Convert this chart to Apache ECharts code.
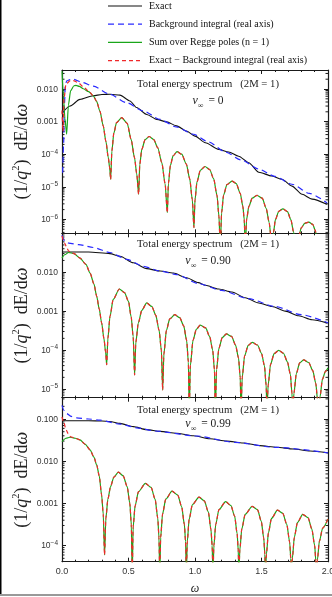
<!DOCTYPE html>
<html><head><meta charset="utf-8">
<script src="https://cdn.jsdelivr.net/npm/echarts@6/dist/echarts.min.js"></script>
<style>html,body{margin:0;padding:0;background:#fff}#c{width:332px;height:597px}</style>
</head><body><div id="c"></div>
<script>
// ---------- names / labels ----------
const seriesNames = ['Exact', 'Background integral (real axis)', 'Sum over Regge poles (n = 1)', 'Exact \u2212 Background integral (real axis)'];
const velocityLabels = ['0', '0.90', '0.99'];
const panelTitle = 'Total energy spectrum   (2M = 1)';
const xTickValues = [0, 0.5, 1.0, 1.5, 2.0];

// ---------- panel 1 (v = 0) ----------
const exact1 = [[0,1.78e-3],[0.06,3.0e-3],[0.135,4.8e-3],[0.235,6.2e-3],[0.3,6.8e-3],[0.361,6.9e-3],[0.436,6.5e-3],[0.511,4.3e-3],[0.561,2.7e-3],[0.637,1.66e-3],[0.712,1.17e-3],[0.787,9.8e-4],[0.862,7.4e-4],[0.937,5.1e-4],[1.0,3.6e-4],[1.078,2.24e-4],[1.178,1.41e-4],[1.253,1.17e-4],[1.328,8.7e-5],[1.404,5.5e-5],[1.479,2.8e-5],[1.579,2.14e-5],[1.654,1.7e-5],[1.729,1.05e-5],[1.805,5.9e-6],[1.88,4.2e-6],[1.992,2.9e-6]];
const background1 = [[0.005,2.7e-5],[0.012,2.0e-4],[0.018,3.0e-3],[0.025,1.3e-2],[0.035,1.78e-2],[0.06,1.95e-2],[0.085,2.0e-2],[0.15,1.6e-2],[0.235,1.23e-2],[0.36,6.9e-3],[0.486,3.8e-3],[0.61,2.14e-3],[0.737,1.17e-3],[0.86,6.9e-4],[0.987,4.1e-4],[1.1,2.4e-4],[1.228,1.17e-4],[1.35,6.6e-5],[1.479,3.5e-5],[1.6,2.1e-5],[1.729,1.2e-5],[1.86,6.3e-6],[1.992,3.2e-6]];
const reggeStart1 = [[0,3.5e-2],[0.01,6.3e-3],[0.022,1.26e-3],[0.035,4.1e-4],[0.048,3.2e-3],[0.065,8.9e-3],[0.09,1.26e-2],[0.105,1.29e-2],[0.13,1.2e-2],[0.16,1.02e-2],[0.2,8.3e-3]];
const diffStart1 = [[0,2.2e-3],[0.008,5.0e-4],[0.015,5.0e-3],[0.03,1.41e-2],[0.06,1.78e-2],[0.085,1.82e-2],[0.12,1.58e-2],[0.16,1.17e-2],[0.2,8.7e-3]];
const lobes1 = [[0.235,6.2e-3],[0.26,4.2e-3],[0.285,2.1e-3],[0.31,7.4e-4],[0.33,2.5e-4],[0.348,7.9e-5],[0.358,4.0e-5],[0.366,1.7e-5],
  [0.375,1.26e-4],[0.39,4.5e-4],[0.41,9.3e-4],[0.449,1.32e-3],[0.49,8.9e-4],[0.52,2.8e-4],[0.545,7.9e-5],[0.562,2.5e-5],[0.576,5.9e-6],
  [0.585,5.0e-5],[0.6,1.41e-4],[0.625,2.8e-4],[0.655,3.5e-4],[0.69,2.8e-4],[0.72,1.58e-4],[0.75,5.6e-5],[0.775,1.26e-5],[0.792,1.6e-6],
  [0.8,1.26e-5],[0.815,4.5e-5],[0.835,8.9e-5],[0.865,1.2e-4],[0.9,1.0e-4],[0.935,5.0e-5],[0.96,1.78e-5],[0.98,4.0e-6],[0.992,5.6e-7],
  [1.0,4.0e-6],[1.015,1.41e-5],[1.04,3.2e-5],[1.075,4.2e-5],[1.11,3.4e-5],[1.14,1.78e-5],[1.165,5.6e-6],[1.18,1.26e-6],[1.19,1.26e-7],
  [1.2,1.6e-6],[1.215,5.6e-6],[1.24,1.17e-5],[1.278,1.5e-5],[1.31,1.26e-5],[1.34,6.3e-6],[1.36,2.5e-6],[1.37,1.0e-6],[1.378,1.26e-7],
  [1.388,1.0e-6],[1.405,2.5e-6],[1.43,4.5e-6],[1.466,5.5e-6],[1.505,4.5e-6],[1.535,2.2e-6],[1.558,7.9e-7],[1.57,3.2e-7],[1.579,1.26e-7],
  [1.59,4.0e-7],[1.605,1.0e-6],[1.63,1.78e-6],[1.661,2.1e-6],[1.695,1.74e-6],[1.72,1.0e-6],[1.742,4.0e-7],[1.76,1.26e-7],
  [1.775,2.5e-7],[1.8,5.6e-7],[1.825,7.6e-7],[1.856,8.3e-7],[1.885,7.1e-7],[1.905,4.5e-7],[1.925,1.26e-7],[1.95,2.0e-7],[2.0,3.2e-7]];

// ---------- panel 2 (v = 0.90) ----------
const exact2 = [[0,3.3e-2],[0.2,3.3e-2],[0.36,3.0e-2],[0.436,2.57e-2],[0.536,1.74e-2],[0.637,1.23e-2],[0.737,1.07e-2],[0.837,9.5e-3],[0.937,7.2e-3],[1.025,5.4e-3],[1.078,4.6e-3],[1.178,3.7e-3],[1.278,3.1e-3],[1.378,2.2e-3],[1.479,1.62e-3],[1.579,1.32e-3],[1.679,1.0e-3],[1.779,7.6e-4],[1.88,6.0e-4],[1.992,5.0e-4]];
const background2 = [[0,8.9e-2],[0.02,6.3e-2],[0.05,5.6e-2],[0.125,5.1e-2],[0.235,4.3e-2],[0.361,3.2e-2],[0.486,2.14e-2],[0.612,1.41e-2],[0.737,1.07e-2],[0.862,8.7e-3],[1.025,5.1e-3],[1.2,3.4e-3],[1.4,2.1e-3],[1.6,1.32e-3],[1.8,8.1e-4],[2.0,5.0e-4]];
const reggeStart2 = [[0,2.3e-2],[0.02,2.8e-2],[0.05,3.2e-2],[0.09,3.0e-2]];
const diffStart2 = [[0,8.5e-2],[0.02,5.6e-2],[0.035,4.3e-2],[0.05,3.5e-2],[0.07,3.2e-2],[0.09,3.0e-2]];
const lobes2 = [[0.135,2.3e-2],[0.18,1.58e-2],[0.211,9.5e-3],[0.24,5.0e-3],[0.261,2.4e-3],[0.28,1.12e-3],[0.298,5.0e-4],[0.315,2.0e-4],[0.328,8.9e-5],[0.336,4.2e-5],
  [0.345,2.0e-4],[0.361,7.4e-4],[0.385,2.0e-3],[0.431,3.7e-3],[0.47,3.0e-3],[0.5,1.78e-3],[0.52,7.1e-4],[0.535,2.24e-4],[0.546,2.3e-5],
  [0.555,1.58e-4],[0.574,5.0e-4],[0.6,1.05e-3],[0.637,1.62e-3],[0.675,1.32e-3],[0.705,7.9e-4],[0.73,3.2e-4],[0.747,1.0e-4],[0.757,9.5e-6],
  [0.766,7.9e-5],[0.785,3.2e-4],[0.81,6.3e-4],[0.848,8.1e-4],[0.885,6.8e-4],[0.915,4.2e-4],[0.937,1.78e-4],[0.95,5.0e-5],[0.957,2.5e-6],
  [0.965,4.0e-5],[0.985,1.78e-4],[1.01,3.4e-4],[1.04,4.4e-4],[1.08,3.7e-4],[1.11,2.24e-4],[1.133,1.0e-4],[1.146,3.2e-5],[1.153,2.5e-6],
  [1.162,3.2e-5],[1.18,1.12e-4],[1.205,2.1e-4],[1.236,2.6e-4],[1.275,2.24e-4],[1.305,1.35e-4],[1.327,6.3e-5],[1.34,2.0e-5],[1.346,2.5e-6],
  [1.355,2.0e-5],[1.373,7.1e-5],[1.4,1.32e-4],[1.43,1.58e-4],[1.47,1.35e-4],[1.5,8.3e-5],[1.522,4.0e-5],[1.535,1.26e-5],[1.541,2.5e-6],
  [1.55,1.26e-5],[1.568,4.3e-5],[1.595,8.1e-5],[1.629,9.8e-5],[1.665,8.3e-5],[1.695,5.0e-5],[1.717,2.4e-5],[1.729,7.9e-6],[1.735,2.5e-6],
  [1.744,7.9e-6],[1.762,2.5e-5],[1.787,4.7e-5],[1.817,5.6e-5],[1.855,4.8e-5],[1.885,3.0e-5],[1.908,1.41e-5],[1.922,5.0e-6],[1.93,2.5e-6],
  [1.94,6.3e-6],[1.958,1.78e-5],[1.98,2.8e-5],[2.0,3.5e-5]];

// ---------- panel 3 (v = 0.99) ----------
const exact3 = [[0,9.1e-2],[0.2,9.1e-2],[0.3,9.0e-2],[0.36,8.7e-2],[0.436,7.9e-2],[0.536,6.6e-2],[0.637,5.6e-2],[0.737,5.1e-2],[0.862,4.6e-2],[0.987,4.0e-2],[1.113,3.4e-2],[1.238,3.0e-2],[1.363,2.7e-2],[1.489,2.34e-2],[1.614,2.14e-2],[1.739,1.95e-2],[1.865,1.74e-2],[2.0,1.58e-2]];
const background3 = [[0,0.21],[0.015,0.16],[0.035,0.135],[0.07,0.115],[0.11,0.107],[0.2,0.1],[0.286,9.4e-2],[0.436,7.6e-2],[0.561,6.2e-2],[0.7,5.2e-2],[1.0,4.0e-2],[1.3,2.8e-2],[1.6,2.14e-2],[2.0,1.58e-2]];
const reggeStart3 = [[0,2.9e-2],[0.03,3.5e-2],[0.06,3.7e-2],[0.1,3.5e-2]];
const diffStart3 = [[0,0.112],[0.015,8.0e-2],[0.03,5.6e-2],[0.047,4.5e-2],[0.065,3.8e-2],[0.1,3.5e-2]];
const lobes3 = [[0.135,3.2e-2],[0.175,2.5e-2],[0.211,1.86e-2],[0.24,1.26e-2],[0.261,8.1e-3],[0.28,4.5e-3],[0.298,1.58e-3],[0.31,5.6e-4],[0.32,6.0e-5],
  [0.33,4.5e-4],[0.345,1.26e-3],[0.365,2.5e-3],[0.39,4.2e-3],[0.424,5.5e-3],[0.46,4.5e-3],[0.49,2.5e-3],[0.51,1.0e-3],[0.521,3.2e-4],[0.528,2.0e-5],
  [0.535,2.8e-4],[0.55,8.9e-4],[0.575,1.9e-3],[0.627,3.0e-3],[0.67,2.4e-3],[0.7,1.26e-3],[0.72,4.5e-4],[0.729,1.58e-4],[0.735,2.0e-5],
  [0.742,1.58e-4],[0.756,5.6e-4],[0.78,1.26e-3],[0.827,1.95e-3],[0.87,1.58e-3],[0.9,8.3e-4],[0.92,3.2e-4],[0.929,1.26e-4],[0.935,2.0e-5],
  [0.942,1.26e-4],[0.956,4.2e-4],[0.98,9.3e-4],[1.03,1.41e-3],[1.07,1.15e-3],[1.1,6.3e-4],[1.12,2.4e-4],[1.129,1.0e-4],[1.135,2.0e-5],
  [1.142,1.0e-4],[1.156,3.2e-4],[1.18,7.1e-4],[1.23,1.1e-3],[1.27,8.9e-4],[1.298,5.0e-4],[1.317,1.9e-4],[1.325,7.9e-5],[1.33,2.0e-5],
  [1.337,7.9e-5],[1.352,2.5e-4],[1.377,5.5e-4],[1.43,8.5e-4],[1.47,7.1e-4],[1.498,3.8e-4],[1.517,1.51e-4],[1.525,6.3e-5],[1.53,2.0e-5],
  [1.537,6.3e-5],[1.552,2.0e-4],[1.575,4.4e-4],[1.62,6.9e-4],[1.66,5.8e-4],[1.69,3.2e-4],[1.712,1.2e-4],[1.72,5.0e-5],[1.725,2.0e-5],
  [1.732,5.0e-5],[1.747,1.58e-4],[1.77,3.5e-4],[1.81,5.5e-4],[1.85,4.6e-4],[1.878,2.5e-4],[1.9,1.0e-4],[1.908,4.5e-5],[1.913,2.0e-5],
  [1.92,4.5e-5],[1.935,1.26e-4],[1.96,2.6e-4],[2.0,4.3e-4]];

// ---------- assemble ----------
const panels = [
  {exact: exact1, bg: background1, regge: reggeStart1.concat(lobes1), diff: diffStart1.concat(lobes1)},
  {exact: exact2, bg: background2, regge: reggeStart2.concat(lobes2), diff: diffStart2.concat(lobes2)},
  {exact: exact3, bg: background3, regge: reggeStart3.concat(lobes3), diff: diffStart3.concat(lobes3)}
];
// layout (pixels) and visible axis extents
const layout = [
  {top: 70, height: 163.3, ymin: 3.75e-7, ymax: 3.83e-2, titleY: 84, vY: 102},
  {top: 233.3, height: 164.4, ymin: 6.0e-6, ymax: 0.0995, titleY: 244, vY: 261.5},
  {top: 397.7, height: 164, ymin: 4.16e-5, ymax: 0.32, titleY: 410, vY: 424.5}
];

const SERIF = 'Liberation Serif';
const SANS = 'Liberation Sans';
const FRAME = '#1a1a1a';
const styles = [
  {color: '#111', width: 1.1, dash: null},
  {color: '#2a2aff', width: 1.2, dash: [6, 4]},
  {color: '#1aa61a', width: 1.2, dash: null},
  {color: '#f0282a', width: 1.2, dash: [4, 3]}
];

function yLabel(v) {
  const e = Math.log10(v), r = Math.round(e);
  if (Math.abs(e - r) > 1e-6) return '';
  if (r >= -3) return '{b|' + v.toFixed(3) + '}';
  return '{b|10}{s|\u2212' + (-r) + '}';
}
const yRich = {
  b: {fontFamily: SANS, fontSize: 8.5, color: '#333', verticalAlign: 'bottom', lineHeight: 10},
  s: {fontFamily: SANS, fontSize: 6.5, color: '#333', verticalAlign: 'bottom', lineHeight: 7, padding: [0, 0, 4, 0]}
};
const nameRich = {
  i: {fontFamily: SERIF, fontStyle: 'italic', fontSize: 18, color: '#222', verticalAlign: 'bottom', lineHeight: 19},
  t: {fontFamily: SERIF, fontSize: 18, color: '#222', verticalAlign: 'bottom', lineHeight: 19},
  s: {fontFamily: SERIF, fontSize: 10.5, color: '#222', verticalAlign: 'bottom', lineHeight: 10, padding: [0, 0, 9, 0]}
};

const grid = [], xAxis = [], yAxis = [], series = [], graphic = [];
layout.forEach((L, i) => {
  grid.push({left: 62, top: L.top, width: 266, height: L.height, outerBoundsMode: 'none', containLabel: false});
  ['bottom', 'top'].forEach((pos, k) => {
    xAxis.push({
      type: 'value', gridIndex: i, position: pos, min: xTickValues[0], max: xTickValues[xTickValues.length - 1], interval: 0.5,
      axisLine: {show: true, onZero: false, lineStyle: {color: FRAME, width: 1.2}},
      axisTick: {show: true, inside: true, length: 4, lineStyle: {color: FRAME}},
      minorTick: {show: true, splitNumber: 5, length: 2, lineStyle: {color: FRAME}},
      splitLine: {show: false},
      axisLabel: {show: (i === 2 && k === 0), fontFamily: SANS, fontSize: 9, color: '#333', margin: 5,
        formatter: v => v.toFixed(1)},
      name: (i === 2 && k === 0) ? '\u03c9' : '', nameLocation: 'middle', nameGap: 21, nameMoveOverlap: false,
      nameTextStyle: {fontFamily: SERIF, fontStyle: 'italic', fontSize: 12, color: '#222'}
    });
  });
  ['left', 'right'].forEach((pos, k) => {
    yAxis.push({
      type: 'log', logBase: 10, gridIndex: i, position: pos, min: L.ymin, max: L.ymax,
      axisLine: {show: true, onZero: false, lineStyle: {color: FRAME, width: 1.2}},
      axisTick: {show: true, inside: true, length: 4, lineStyle: {color: FRAME}},
      splitLine: {show: false},
      axisLabel: {show: k === 0, margin: 4, formatter: yLabel, rich: yRich, showMinLabel: false, showMaxLabel: false},
      name: k === 0 ? '{t|(1/}{i|q}{s|2}{t|)  dE/d}{i|\u03c9}' : '',
      nameLocation: 'middle', nameGap: 31, nameMoveOverlap: false, nameTextStyle: {rich: nameRich}
    });
  });
  const P = panels[i];
  const data = [P.exact, P.bg, P.regge, P.diff];
  data.forEach((d, s) => {
    const st = styles[s];
    series.push({type: 'line', name: seriesNames[s], data: d, xAxisIndex: 2 * i, yAxisIndex: 2 * i,
      symbol: 'none', showSymbol: false, smooth: 0.25, smoothMonotone: 'x', animation: false, clip: true,
      lineStyle: {color: st.color, width: st.width, type: st.dash || 'solid'}, itemStyle: {color: st.color}});
  });

  graphic.push({type: 'text', x: 208, y: L.titleY, silent: true,
    style: {text: panelTitle, fontFamily: SERIF, fontSize: 10.7, fill: '#222', align: 'center', verticalAlign: 'middle'}});
  graphic.push({type: 'text', x: 208, y: L.vY, silent: true,
    style: {text: '{i|v}{sub|\u221e}{t| = ' + velocityLabels[i] + '}', align: 'center', verticalAlign: 'middle',
      rich: {
        i: {fontFamily: SERIF, fontStyle: 'italic', fontSize: 12, fill: '#222', verticalAlign: 'top', lineHeight: 14},
        sub: {fontFamily: SERIF, fontSize: 8, fill: '#222', verticalAlign: 'top', lineHeight: 8, padding: [7, 2, 0, 0]},
        t: {fontFamily: SERIF, fontSize: 11.5, fill: '#222', verticalAlign: 'top', lineHeight: 14}
      }}});
});
// legend (drawn as line samples + text)
seriesNames.forEach((n, s) => {
  const st = styles[s];
  const y = 6 + s * 18.2;
  graphic.push({type: 'line', silent: true, shape: {x1: 108, y1: y, x2: 142, y2: y},
    style: {stroke: st.color, lineWidth: st.width, lineDash: st.dash}});
  graphic.push({type: 'text', silent: true, x: 149, y: y,
    style: {text: n, fontFamily: SERIF, fontSize: 10, fill: '#111', align: 'left', verticalAlign: 'middle'}});
});
graphic.push({type: 'line', silent: true, shape: {x1: 0.75, y1: 0, x2: 0.75, y2: 595}, style: {stroke: '#000', lineWidth: 1.5}});
graphic.push({type: 'line', silent: true, shape: {x1: 0, y1: 595, x2: 332, y2: 595}, style: {stroke: '#999', lineWidth: 2}});

const chart = echarts.init(document.getElementById('c'), null, {renderer: 'canvas'});
chart.setOption({
  backgroundColor: '#fff',
  animation: false,
  legend: {show: false, data: seriesNames},
  grid, xAxis, yAxis, series, graphic
});

// logarithmic minor ticks (2..9 x 10^k), placed through the axis scale
const minor = [];
layout.forEach((L, i) => {
  const lo = Math.floor(Math.log10(L.ymin)), hi = Math.ceil(Math.log10(L.ymax));
  for (let k = lo; k < hi; k++) {
    for (let m = 2; m <= 9; m++) {
      const v = m * Math.pow(10, k);
      if (v <= L.ymin || v >= L.ymax) continue;
      const py = chart.convertToPixel({yAxisIndex: 2 * i}, v);
      minor.push({type: 'line', silent: true, shape: {x1: 62, y1: py, x2: 64.5, y2: py}, style: {stroke: FRAME, lineWidth: 1}});
      minor.push({type: 'line', silent: true, shape: {x1: 325.5, y1: py, x2: 328, y2: py}, style: {stroke: FRAME, lineWidth: 1}});
    }
  }
});
chart.setOption({graphic: graphic.concat(minor)});
</script></body></html>
